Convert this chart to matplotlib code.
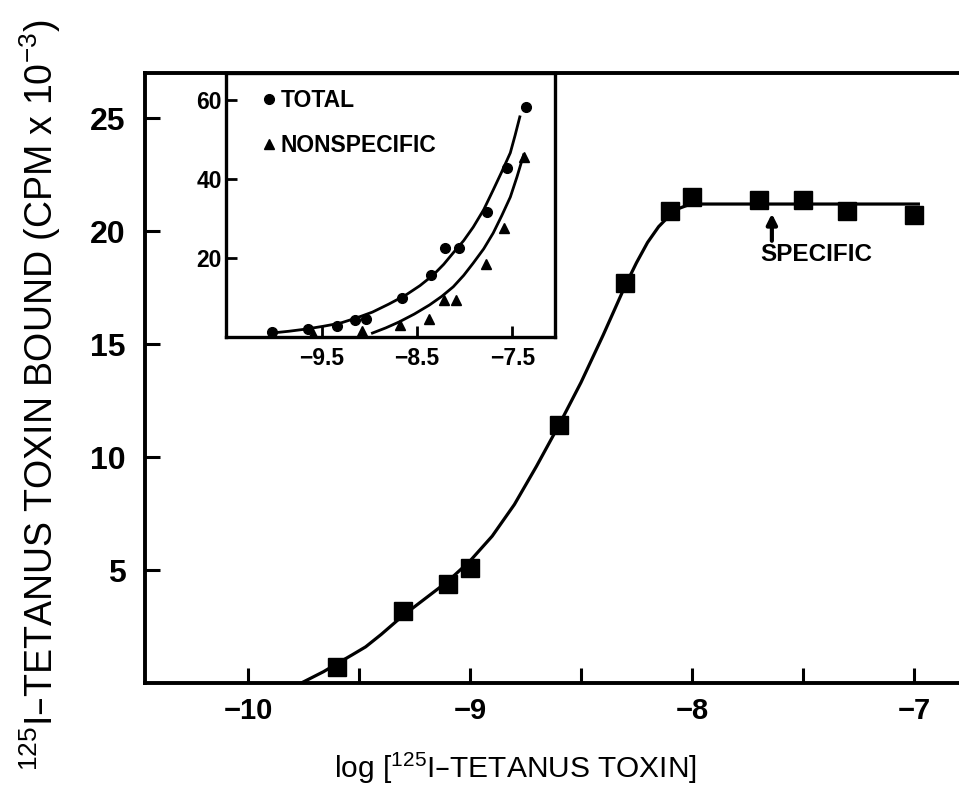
import matplotlib
matplotlib.use("Agg")
import matplotlib.pyplot as plt
from matplotlib import font_manager

# main panel: specific binding (squares) and the fitted curve
main_x = [-9.6, -9.3, -9.1, -9.0, -8.6, -8.3, -8.1, -8.0, -7.7, -7.5, -7.3, -7.0]
main_y = [0.7, 3.2, 4.4, 5.1, 11.4, 17.7, 20.9, 21.5, 21.4, 21.4, 20.9, 20.7]
fit_x = [-9.76, -9.72, -9.66, -9.6, -9.53, -9.47, -9.4, -9.3, -9.2, -9.1, -9.0,
         -8.9, -8.8, -8.7, -8.6, -8.5, -8.4, -8.35, -8.3, -8.25, -8.2, -8.15,
         -8.1, -8.06, -8.02, -7.97, -6.98]
fit_y = [0, 0.2, 0.5, 0.85, 1.25, 1.6, 2.15, 3.0, 3.75, 4.5, 5.4,
         6.5, 7.9, 9.6, 11.4, 13.3, 15.4, 16.5, 17.6, 18.6, 19.5, 20.2,
         20.7, 21.0, 21.15, 21.2, 21.2]

# inset: total and nonspecific binding
tot_x = [-10.03, -9.65, -9.34, -9.15, -9.04, -8.66, -8.35, -8.21, -8.06, -7.77, -7.56, -7.36]
tot_y = [1.3, 2.0, 2.8, 4.3, 4.6, 9.9, 15.7, 22.5, 22.5, 31.6, 42.8, 58.2]
ns_x = [-9.6, -9.08, -8.68, -8.38, -8.22, -8.09, -7.78, -7.59, -7.38]
ns_y = [0.8, 1.5, 3.0, 4.6, 9.4, 9.4, 18.5, 27.6, 45.6]
tot_fit_x = [-10.03, -9.85, -9.67, -9.49, -9.31, -9.14, -8.97, -8.8, -8.62, -8.47,
             -8.33, -8.22, -8.12, -8.01, -7.91, -7.8, -7.70, -7.61, -7.52, -7.47, -7.42]
tot_fit_y = [1.0, 1.45, 2.0, 2.7, 3.5, 4.8, 6.3, 8.3, 10.6, 13.0,
             15.7, 18.4, 21.3, 24.4, 27.8, 32.2, 37.2, 41.8, 46.6, 51.0, 55.7]
ns_fit_x = [-8.97, -8.83, -8.69, -8.53, -8.37, -8.24, -8.12, -8.01, -7.91, -7.8,
            -7.70, -7.61, -7.52, -7.45, -7.38]
ns_fit_y = [1.0, 2.3, 3.8, 5.8, 8.1, 10.3, 12.7, 15.6, 18.7, 22.3,
            26.3, 30.7, 35.4, 40.5, 46.1]

main_xticks = [-10, -9, -8, -7]
main_xminor = [-9.5, -8.5, -7.5]
main_yticks = [5, 10, 15, 20, 25]
inset_xticks = [-9.5, -8.5, -7.5]
inset_yticks = [20, 40, 60]

names = {f.name for f in font_manager.fontManager.ttflist}
narrow = "Liberation Sans Narrow" if "Liberation Sans Narrow" in names else "Liberation Sans"
plt.rcParams["font.family"] = ["Liberation Sans", "DejaVu Sans"]
plt.rcParams["mathtext.default"] = "regular"
plt.rcParams["axes.unicode_minus"] = True

W, H = 959, 801
fig = plt.figure(figsize=(W / 100, H / 100), dpi=100)

# main axes, right side cut off by the image edge
ax = fig.add_axes([145 / W, 1 - 683 / H, 1 - 145 / W, (683 - 73) / H])
ax.set_xlim(-10.464, -6.797)
ax.set_ylim(0, 27.0)
ax.plot(fit_x, fit_y, color="black", lw=2.3, zorder=2, solid_joinstyle="round")
ax.plot(main_x, main_y, "s", color="black", ms=13, zorder=3)
for s in ["left", "bottom", "top"]:
    ax.spines[s].set_linewidth(2.8)
ax.spines["right"].set_visible(False)
ax.set_xticks(main_xticks)
ax.set_xticklabels(["\u221210", "\u22129", "\u22128", "\u22127"])
ax.set_xticks(main_xminor, minor=True)
ax.set_yticks(main_yticks)
ax.tick_params(axis="both", which="both", direction="in", length=11, width=2.2)
ax.tick_params(axis="x", which="major", labelsize=21, pad=10)
ax.tick_params(axis="y", labelsize=23, pad=14)
for t in ax.get_yticklabels():
    t.set_fontweight("bold")
for t in ax.get_xticklabels():
    t.set_fontweight("bold")

ax.annotate("", xy=(-7.64, 20.9), xytext=(-7.64, 19.45),
            arrowprops=dict(arrowstyle="-|>,head_length=0.6,head_width=0.3",
                            color="black", lw=3.0))
ax.text(-7.69, 18.95, "SPECIFIC", fontsize=17.5, fontweight="bold",
        ha="left", va="center")

# inset
ax_in = fig.add_axes([226 / W, 1 - 337 / H, (555 - 226) / W, (337 - 73) / H])
ax_in.set_xlim(-10.51, -7.05)
ax_in.set_ylim(0, 66.8)
ax_in.plot(tot_fit_x, tot_fit_y, color="black", lw=2.0, zorder=2)
ax_in.plot(ns_fit_x, ns_fit_y, color="black", lw=2.0, zorder=2)
ax_in.plot(tot_x, tot_y, "o", color="black", ms=7, label="TOTAL", zorder=3)
ax_in.plot(ns_x, ns_y, "^", color="black", ms=7.5, label="NONSPECIFIC", zorder=3)
for s in ax_in.spines.values():
    s.set_linewidth(2.4)
ax_in.set_xticks(inset_xticks)
ax_in.set_xticklabels(["\u22129.5", "\u22128.5", "\u22127.5"])
ax_in.set_yticks(inset_yticks)
ax_in.tick_params(axis="both", direction="in", length=8, width=2.0, labelsize=16.5)
ax_in.tick_params(axis="x", pad=7)
ax_in.tick_params(axis="y", pad=3)
for t in ax_in.get_xticklabels() + ax_in.get_yticklabels():
    t.set_fontweight("bold")
ax_in.legend(loc="upper left", bbox_to_anchor=(0.04, 1.025), frameon=False,
             numpoints=1, handlelength=0.6, handletextpad=0.2, labelspacing=0.95,
             borderpad=0.5, prop=dict(size=16.5, weight="bold"))

fig.text(515 / W, 1 - 768 / H, "log [$^{125}$I\u2013TETANUS TOXIN]",
         fontsize=21.5, family=[narrow, "DejaVu Sans"], ha="center", va="center")
fig.text(40 / W, 1 - 395 / H, "$^{125}$I\u2013TETANUS TOXIN BOUND (CPM x 10$^{-3}$)",
         fontsize=27, family=[narrow, "DejaVu Sans"], rotation=90,
         ha="center", va="center")

fig.savefig("out.png", dpi=100)
